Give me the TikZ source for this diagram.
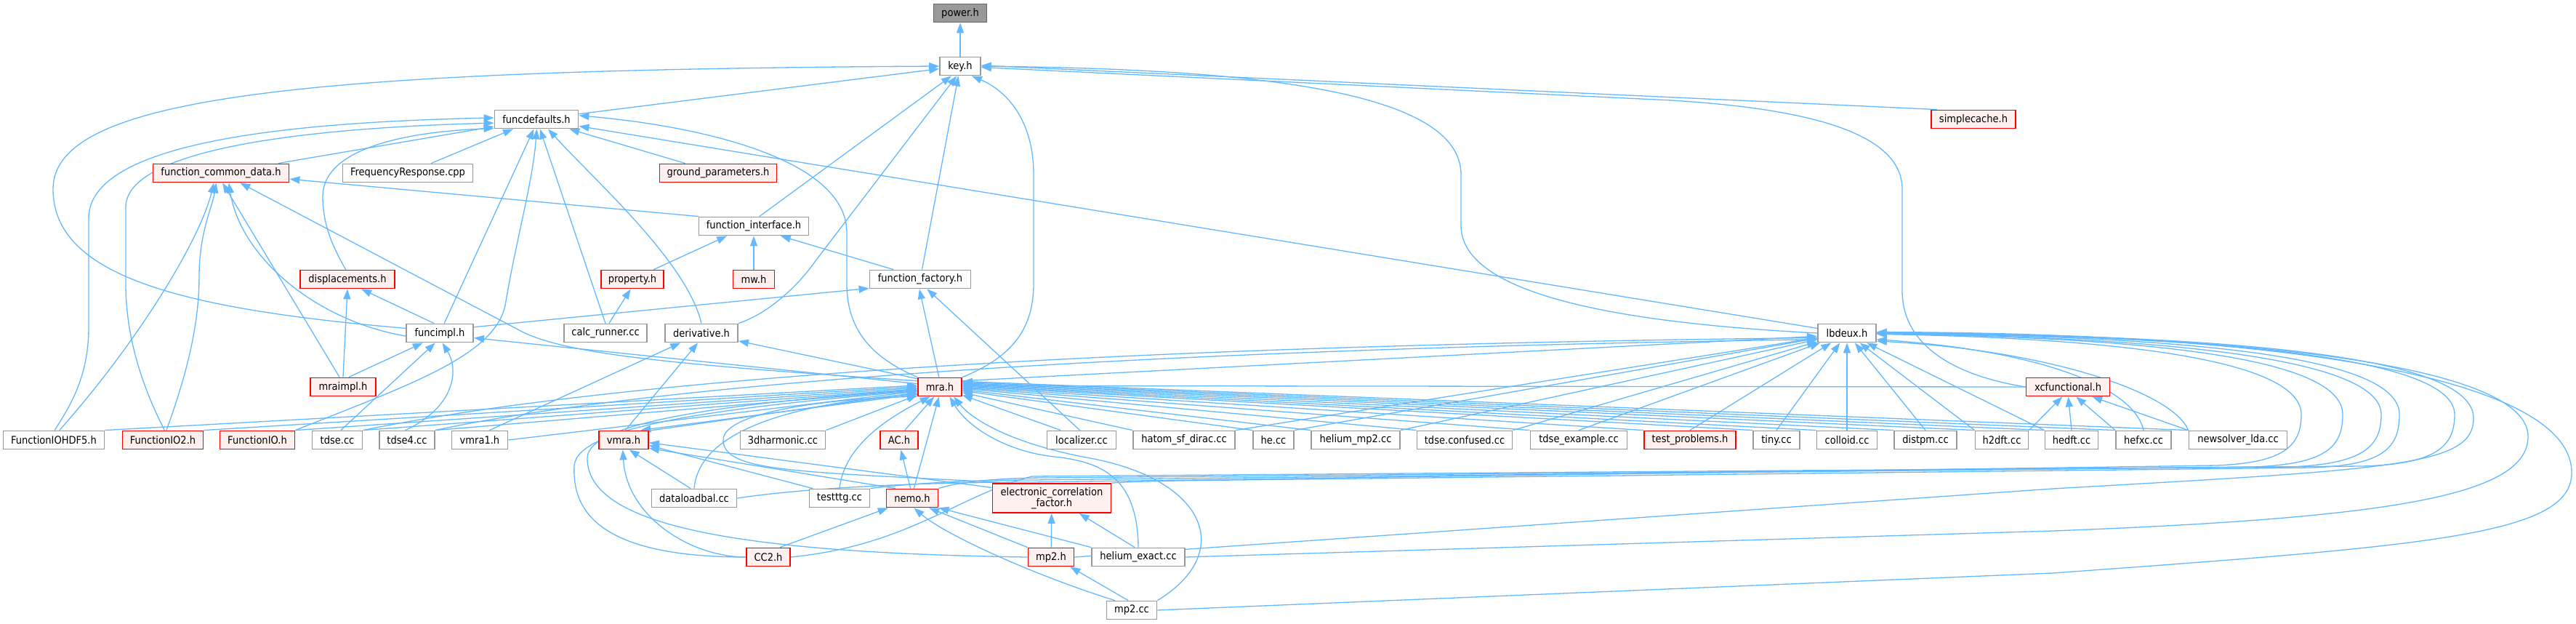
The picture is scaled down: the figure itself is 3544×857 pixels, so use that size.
\documentclass[tikz,border=0pt]{standalone}
\usepackage{fontspec}
\setmainfont{DejaVu Sans}[FakeStretch=0.9]
\usetikzlibrary{arrows.meta,backgrounds}
\definecolor{eblue}{HTML}{63B8FF}
\definecolor{bgray}{HTML}{999999}
\definecolor{rfill}{HTML}{FFF0F0}
\definecolor{rborder}{HTML}{FF0000}
\newcommand{\nodefont}{\fontsize{14.5}{15}\selectfont}
\begin{document}
\begin{tikzpicture}[x=1pt,y=-1pt,
 nb/.style={draw=bgray, fill=white, line width=1.8pt, minimum height=25pt, inner xsep=2pt, inner ysep=1pt, font=\nodefont, text=black},
 nr/.style={nb, draw=rborder, fill=rfill},
 e/.style={draw=eblue, line width=1.3pt, -{Triangle[length=14pt,width=10pt]}},
]
\useasboundingbox (0,0) rectangle (3544,857);
% nodes
\node[nb, fill=bgray, draw=black!60, minimum width=73pt] (power) at (1321,18) {power.h};
\node[nb, minimum width=56pt] (key) at (1321,91) {key.h};
\node[nb, minimum width=115pt] (fd) at (738,164) {funcdefaults.h};
\node[nr, minimum width=116pt] (scache) at (2715,164) {simplecache.h};
\node[nr, minimum width=187pt] (fcd) at (304,238) {function\_common\_data.h};
\node[nb, minimum width=179pt] (freq) at (561,238) {FrequencyResponse.cpp};
\node[nr, minimum width=161pt] (gp) at (988,238) {ground\_parameters.h};
\node[nb, minimum width=151pt] (fi) at (1037,311) {function\_interface.h};
\node[nr, minimum width=130pt] (disp) at (478,384) {displacements.h};
\node[nr, minimum width=86pt] (prop) at (870,384) {property.h};
\node[nr, minimum width=57pt] (mw) at (1037,384) {mw.h};
\node[nb, minimum width=139pt] (ff) at (1266,384) {function\_factory.h};
\node[nb, minimum width=92pt] (fimpl) at (605,458) {funcimpl.h};
\node[nb, minimum width=114pt] (calc) at (833,458) {calc\_runner.cc};
\node[nb, minimum width=100pt] (deriv) at (965,458) {derivative.h};
\node[nb, minimum width=80pt] (lb) at (2541,458) {lbdeux.h};
\node[nr, minimum width=90pt] (mraimpl) at (472,532) {mraimpl.h};
\node[nr, minimum width=60pt] (mra) at (1293,532) {mra.h};
\node[nr, minimum width=115pt] (xcf) at (2845,532) {xcfunctional.h};
\node[nb, minimum width=139pt] (iohdf) at (74,605) {FunctionIOHDF5.h};
\node[nr, minimum width=111pt] (io2) at (224,605) {FunctionIO2.h};
\node[nr, minimum width=103pt] (io) at (354,605) {FunctionIO.h};
\node[nb, minimum width=69pt] (tdse) at (464,605) {tdse.cc};
\node[nb, minimum width=76pt] (tdsef) at (560,605) {tdse4.cc};
\node[nb, minimum width=77pt] (vmraone) at (660,605) {vmra1.h};
\node[nr, minimum width=68pt] (vmra) at (858,605) {vmra.h};
\node[nb, minimum width=117pt] (harm) at (1077,605) {3dharmonic.cc};
\node[nr, minimum width=52pt] (ac) at (1237,605) {AC.h};
\node[nb, minimum width=95pt] (loc) at (1488,605) {localizer.cc};
\node[nb, minimum width=140pt] (hatom) at (1629,605) {hatom\_sf\_dirac.cc};
\node[nb, minimum width=56pt] (hecc) at (1752,605) {he.cc};
\node[nb, minimum width=122pt] (hmp) at (1865,605) {helium\_mp2.cc};
\node[nb, minimum width=131pt] (tconf) at (2015,605) {tdse.confused.cc};
\node[nb, minimum width=133pt] (tex) at (2172,605) {tdse\_example.cc};
\node[nr, minimum width=126pt] (tprob) at (2325,605) {test\_problems.h};
\node[nb, minimum width=64pt] (tiny) at (2444,605) {tiny.cc};
\node[nb, minimum width=83pt] (coll) at (2541,605) {colloid.cc};
\node[nb, minimum width=86pt] (dist) at (2649,605) {distpm.cc};
\node[nb, minimum width=73pt] (htwo) at (2754,605) {h2dft.cc};
\node[nb, minimum width=73pt] (hedft) at (2850,605) {hedft.cc};
\node[nb, minimum width=76pt] (hefxc) at (2949,605) {hefxc.cc};
\node[nb, minimum width=135pt] (nsl) at (3079,605) {newsolver\_lda.cc};
\node[nb, minimum width=117pt] (dlb) at (955,685) {dataloadbal.cc};
\node[nb, minimum width=83pt] (ttg) at (1155,685) {testttg.cc};
\node[nr, minimum width=71pt] (nemo) at (1255,685) {nemo.h};
\node[nr, minimum width=163pt, minimum height=40pt, align=center] (ecf) at (1447,685) {electronic\_correlation\\\_factor.h};
\node[nr, minimum width=60pt] (cctwo) at (1057,766) {CC2.h};
\node[nr, minimum width=63pt] (mpth) at (1446,766) {mp2.h};
\node[nb, minimum width=128pt] (heex) at (1566,766) {helium\_exact.cc};
\node[nb, minimum width=69pt] (mpcc) at (1557,839) {mp2.cc};
% edges
\begin{scope}[on background layer]
% key / power
\draw[e] (key) -- (power);
\draw[e] (fd) -- (key);
\draw[e] (fimpl.172) .. controls (250,425) and (73,380) .. (73,260) .. controls (73,135) and (400,96) .. (key.west);
\draw[e] (fi.60) -- (key.228);
\draw[e] (deriv.north east) .. controls (1060,430) and (1100,390) .. (1121,360) -- (key.250);
\draw[e] (ff) -- (key);
\draw[e] (mra.north east) .. controls (1395,490) and (1422,450) .. (1422,390) -- (1422,240) .. controls (1422,165) and (1385,125) .. (key.-40);
\draw[e] (lb.west) .. controls (2250,445) and (2010,410) .. (2010,310) -- (2010,240) .. controls (2010,120) and (1700,95) .. (key.east);
\draw[e] (xcf.west) .. controls (2680,515) and (2617,470) .. (2617,400) -- (2617,260) .. controls (2617,175) and (2460,148) .. (2300,138) -- (key.-3);
\draw[e] (scache.165) -- (key.2);
% funcdefaults
\draw[e] (fcd) -- (fd);
\draw[e] (freq) -- (fd);
\draw[e] (gp) -- (fd);
\draw[e] (iohdf.85) .. controls (95,560) and (122,520) .. (122,450) -- (122,300) .. controls (122,195) and (400,168) .. (fd.178);
\draw[e] (io2.80) .. controls (200,540) and (173,470) .. (173,390) -- (173,285) .. controls (173,205) and (420,176) .. (fd.185);
\draw[e] (disp.100) .. controls (455,335) and (444,305) .. (444,270) .. controls (444,210) and (540,182) .. (fd.192);
\draw[e] (fimpl) -- (fd.-105);
\draw[e] (io.north east) .. controls (560,530) and (680,490) .. (695,420) .. controls (710,330) and (733,250) .. (fd.-88);
\draw[e] (calc.north) -- (fd.-70);
\draw[e] (deriv.north) .. controls (945,360) and (820,250) .. (fd.-40);
\draw[e] (mra.north west) .. controls (1195,490) and (1165,450) .. (1165,390) -- (1165,320) .. controls (1165,215) and (950,172) .. (fd.5);
\draw[e] (lb) -- (fd);
% function_common_data
\draw[e] (iohdf.60) .. controls (190,470) and (275,330) .. (fcd.-126);
\draw[e] (io2.70) .. controls (255,520) and (274,450) .. (274,380) .. controls (274,320) and (292,285) .. (fcd.-116);
\draw[e] (mraimpl.110) -- (fcd.-81);
\draw[e] (fimpl.185) .. controls (430,440) and (330,350) .. (fcd.-51);
\draw[e] (mra.165) .. controls (900,500) and (780,485) .. (720,457) -- (fcd.-27);
\draw[e] (fi.170) -- (fcd.-5);
% function_interface
\draw[e] (prop) -- (fi.-160);
\draw[e] (mw) -- (fi);
\draw[e] (ff.160) -- (fi.-20);
\draw[e] (calc.70) -- (prop.-100);
% displacements
\draw[e] (mraimpl.north) -- (disp.south);
\draw[e] (fimpl.120) -- (disp.-35);
% function_factory
\draw[e] (fimpl.10) -- (ff.190);
\draw[e] (mra.95) -- (ff.-95);
\draw[e] (loc.100) -- (ff.-55);
% funcimpl
\draw[e] (mraimpl.60) -- (fimpl.-150);
\draw[e] (tdse.70) -- (fimpl.-115);
\draw[e] (tdsef.100) .. controls (625,560) and (632,510) .. (fimpl.-75);
\draw[e] (mra.172) -- (fimpl.-8);
% derivative
\draw[e] (vmraone.45) -- (deriv.-155);
\draw[e] (vmra.80) -- (deriv.-110);
\draw[e] (mra.160) -- (deriv.-12);
% mra from the left
\draw[e] (iohdf.north east) -- (mra.176);
\draw[e] (io2.north east) -- (mra.179);
\draw[e] (io.north east) -- (mra.182);
\draw[e] (tdse.north east) -- (mra.185);
\draw[e] (tdsef.north east) -- (mra.188);
\draw[e] (vmraone.east) -- (mra.191);
\draw[e] (vmra.20) -- (mra.194);
\draw[e] (mra.198) -- (vmra.30);
\draw[e] (harm.north east) -- (mra.200);
\draw[e] (ac.60) -- (mra.240);
\draw[e] (nemo.80) -- (mra.265);
\draw[e] (dlb.north) .. controls (960,610) and (1040,560) .. (mra.197);
\draw[e] (ttg.north) .. controls (1160,625) and (1200,585) .. (mra.225);
\draw[e] (cctwo.west) .. controls (820,766) and (787,700) .. (790,640) .. controls (795,585) and (1000,560) .. (mra.190);
\draw[e] (mpth.west) .. controls (1000,760) and (808,720) .. (808,630) .. controls (808,580) and (1000,555) .. (mra.187);
\draw[e] (ecf.160) .. controls (1100,648) and (995,650) .. (995,605) .. controls (995,565) and (1150,548) .. (mra.203);
\draw[e] (heex.north) .. controls (1565,660) and (1520,635) .. (1450,628) .. controls (1380,620) and (1330,585) .. (mra.-45);
\draw[e] (mpcc.north east) .. controls (1700,760) and (1660,660) .. (1500,630) .. controls (1400,612) and (1340,580) .. (mra.-35);
% mra from the right
\draw[e] (loc.155) -- (mra.-20);
\draw[e] (hatom.north west) -- (mra.-14);
\draw[e] (hecc.north west) -- (mra.-10);
\draw[e] (hmp.north west) -- (mra.-7);
\draw[e] (tconf.north west) -- (mra.-4);
\draw[e] (tex.north west) -- (mra.-2);
\draw[e] (tprob.north west) -- (mra.0);
\draw[e] (tiny.north west) -- (mra.2);
\draw[e] (coll.north west) -- (mra.4);
\draw[e] (dist.north west) -- (mra.6);
\draw[e] (htwo.north west) -- (mra.8);
\draw[e] (hedft.north west) -- (mra.10);
\draw[e] (hefxc.north west) -- (mra.12);
\draw[e] (nsl.north west) -- (mra.14);
\draw[e] (xcf.west) -- (mra.3);
% lbdeux
\draw[e] (mra.15) -- (lb.186);
\draw[e] (tdse.north east) .. controls (750,540) and (1300,478) .. (lb.189);
\draw[e] (tdsef.north east) .. controls (800,548) and (1320,484) .. (lb.192);
\draw[e] (hatom.north east) -- (lb);
\draw[e] (hecc.north east) -- (lb);
\draw[e] (hmp.north east) -- (lb);
\draw[e] (tconf.north east) -- (lb);
\draw[e] (tex.north) -- (lb);
\draw[e] (tprob.north) -- (lb);
\draw[e] (tiny.north) -- (lb);
\draw[e] (coll) -- (lb);
\draw[e] (dist.north) -- (lb);
\draw[e] (htwo.north west) -- (lb);
\draw[e] (hedft.north west) -- (lb);
\draw[e] (hefxc.north) .. controls (2935,530) and (2800,482) .. (lb.-12);
\draw[e] (nsl.north west) .. controls (2990,540) and (2820,482) .. (lb.-15);
% wraps into lbdeux
\draw[e] (dlb.east) .. controls (1100,672) and (1250,663) .. (1420,663) -- (3050,640) .. controls (3140,636) and (3166,615) .. (3166,570) .. controls (3166,500) and (2950,466) .. (lb.-2);
\draw[e] (ttg.north east) .. controls (1250,665) and (1330,660) .. (1420,660) -- (3100,642) .. controls (3200,638) and (3223,615) .. (3223,570) .. controls (3223,495) and (2980,465) .. (lb.-1);
\draw[e] (nemo.north east) .. controls (1320,662) and (1380,657) .. (1440,657) -- (3150,642) .. controls (3250,638) and (3276,615) .. (3276,570) .. controls (3276,495) and (3000,464) .. (lb.-1);
\draw[e] (ecf.north east) .. controls (1560,662) and (1600,661) .. (1700,660) -- (3180,643) .. controls (3280,640) and (3301,615) .. (3301,570) .. controls (3301,490) and (3020,463) .. (lb.0);
\draw[e] (cctwo.east) .. controls (1250,750) and (1320,680) .. (1420,655) -- (3250,641) .. controls (3350,638) and (3377,615) .. (3377,570) .. controls (3377,490) and (3050,462) .. (lb.0);
\draw[e] (mpth.east) -- (2824,672) .. controls (3300,645) and (3403,640) .. (3403,575) .. controls (3403,490) and (3080,461) .. (lb.1);
\draw[e] (heex.east) -- (2824,730) .. controls (3300,712) and (3478,680) .. (3478,600) .. controls (3478,505) and (3120,460) .. (lb.1);
\draw[e] (mpcc.east) -- (2824,788) .. controls (3350,750) and (3538,735) .. (3538,650) .. controls (3538,520) and (3150,458) .. (lb.2);
% xcfunctional
\draw[e] (htwo.north east) -- (xcf.-120);
\draw[e] (hedft.north) -- (xcf.-88);
\draw[e] (hefxc.north west) -- (xcf.-50);
\draw[e] (nsl.north west) -- (xcf.-22);
% vmra
\draw[e] (dlb.110) -- (vmra.-60);
\draw[e] (ttg.160) -- (vmra.-12);
\draw[e] (nemo.150) -- (vmra.-18);
\draw[e] (ecf.170) -- (vmra.-6);
\draw[e] (cctwo.west) .. controls (950,766) and (862,710) .. (vmra.-95);
% nemo, ecf, mp2
\draw[e] (nemo.100) -- (ac.-80);
\draw[e] (cctwo.40) -- (nemo.-158);
\draw[e] (mpth.north west) -- (nemo.-30);
\draw[e] (heex.north west) -- (nemo.-20);
\draw[e] (mpcc.150) .. controls (1420,790) and (1300,735) .. (nemo.-80);
\draw[e] (mpth) -- (ecf);
\draw[e] (heex.110) -- (ecf.-29);
\draw[e] (mpcc.110) -- (mpth.-27);
\end{scope}
\end{tikzpicture}
\end{document}
